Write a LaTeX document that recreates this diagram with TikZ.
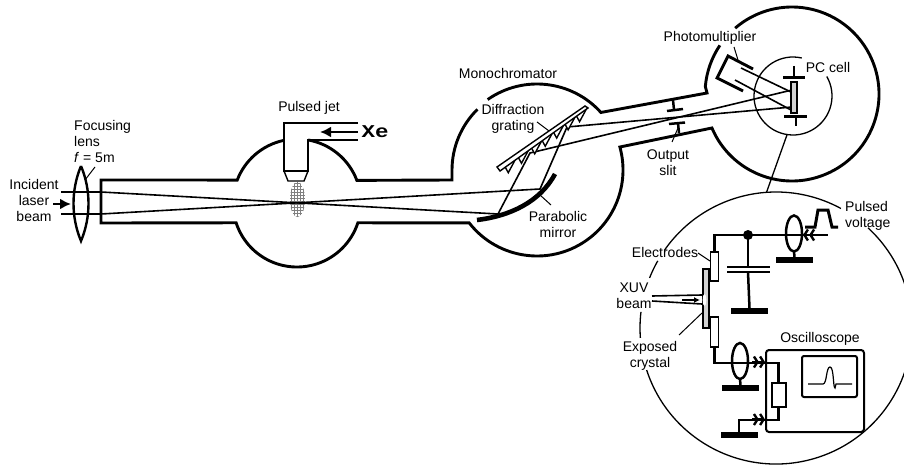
\documentclass[tikz,border=0pt]{standalone}
\usepackage{fontspec}
\setmainfont{Liberation Sans}
\newfontfamily\xefont[FakeStretch=1.25]{Liberation Mono}
\usepackage{tikz}
\usetikzlibrary{arrows.meta,calc,patterns,shapes.geometric}
\tikzset{
    wall/.style={line width=2.9pt, line join=miter},
    wire/.style={line width=2.5pt, line join=miter},
    beam/.style={line width=1.6pt},
    leader/.style={line width=1pt},
    thincase/.style={line width=1.4pt},
    ring/.style={line width=1.3pt},
    lbl/.style={font=\fontsize{14}{16}\selectfont, align=center, inner sep=0pt},
    groundbar/.style={fill=black, minimum width=37pt, minimum height=5.5pt, inner sep=0pt, outer sep=0pt},
    platebox/.style={draw, line width=1.6pt, fill=white, inner sep=0pt, outer sep=0pt},
    coil/.style={draw, ellipse, line width=2.5pt, inner sep=0pt, outer sep=0pt, minimum width=16pt, minimum height=36pt},
    chevrons/.style={-{Straight Barb[length=3.5pt,width=11pt,line width=2.4pt]Straight Barb[length=3.5pt,width=11pt,line width=2.4pt]}},
}
\begin{document}
\begin{tikzpicture}[
        x=1pt, y=1pt,
        >={Latex[length=11pt,width=11pt]}
    ]
    \useasboundingbox (0,-465) rectangle (904,0);
    \clip (0,-465) rectangle (904,0);
    \coordinate (c1) at (297,-203);
    \coordinate (c2) at (537,-170);
    \coordinate (c3) at (792,-94);
    \coordinate (c4) at (793,-96);
    \coordinate (c5) at (776,-328);
    % gas spray
    \fill[pattern=grid, pattern color=gray] (297.5,-199.5) ellipse[x radius=7.5, y radius=17.5];
    % vacuum chambers
    \draw[wall] ($(c1)+(102:64)$) arc[start angle=102, end angle=159, radius=64] -- (101,-180) -- (101,-223)
        -- ($(c1)+(198:64)$) arc[start angle=198, end angle=342, radius=64]
        -- ($(c2)+(218:86)$) arc[start angle=218, end angle=375.5, radius=86]
        -- ($(c3)+(203:87)$) arc[start angle=203, end angle=490.8, radius=87];
    \draw[wall] ($(c1)+(80:64)$) arc[start angle=80, end angle=20.7, radius=64] -- (452,-180)
        -- ($(c2)+(180:85)$) arc[start angle=180, end angle=134.5, radius=85];
    \draw[wall] ($(c2)+(125:86)$) arc[start angle=125, end angle=42, radius=86] -- (707,-93)
        -- ($(c3)+(175:87)$) arc[start angle=175, end angle=146, radius=87];
    % pulsed jet
    \draw[wall] (358,-123) -- (284,-123) -- (284,-171) -- (308,-171) -- (308,-140) -- (358,-140);
    \draw[thincase] (284,-171) -- (288,-181) -- (304,-181) -- (308,-171);
    \draw[wire,<-] (320,-132) -- (358,-132);
    \node[lbl] (jetlbl) at (309,-108) {Pulsed jet};
    \node[inner sep=0pt, font=\xefont\bfseries\fontsize{18}{18}\selectfont] (xe) at (375,-132) {Xe};
    % lens
    \draw[line width=2.4pt] (81,-166) .. controls (71,-190) and (71,-217) .. (81,-241)
        .. controls (91,-217) and (91,-190) .. (81,-166);
    \draw[wall,->] (53,-204) -- (71,-204);
    \node[lbl, anchor=west, align=left] (lenslbl) at (74,-141) {Focusing\\lens\\\textit{f} = 5m};
    \node[lbl] (laserlbl) at (34,-200) {Incident\\laser\\beam};
    \coordinate (lensa) at (95,-167);
    \coordinate (lensb) at (85,-180);
    \draw[leader] (lensa) -- (lensb);
    % light path
    \coordinate (ua) at (61,-192);
    \coordinate (ub) at (101,-192);
    \coordinate (uc) at (498,-214);
    \coordinate (ud) at (530,-153);
    \coordinate (ue) at (792,-90);
    \coordinate (la) at (61,-214);
    \coordinate (lb) at (101,-214);
    \coordinate (lc) at (540,-189);
    \coordinate (ld) at (567,-127);
    \coordinate (le) at (792,-107);
    \draw[beam] (ua) -- (ub) -- (uc) -- (ud) -- (ue);
    \draw[beam] (la) -- (lb) -- (lc) -- (ld) -- (le);
    % mirror
    \draw[line width=4.6pt] (477,-220) .. controls (510,-216) and (540,-202) .. (555,-174);
    \node[lbl] (mirlbl) at (558,-224) {Parabolic\\mirror};
    \coordinate (mira) at (540,-195);
    \coordinate (mirb) at (551,-205);
    \draw[leader] (mira) -- (mirb);
    % grating
    \coordinate (gr1) at (500,-171);
    \coordinate (gr2) at (588,-108);
    \coordinate (gr3) at (585,-106);
    \coordinate (gr4) at (497,-167);
    \foreach \t in {.06,.21,.36,.48,.61,.74,.87}
        \draw[thincase, fill=white] ($(gr1)!\t!(gr2)$) -- ($(gr1)!\t!(gr2)+(3,-5.5)$) -- ($(gr1)!\t+.11!(gr2)$);
    \draw[thincase, fill=white] (gr1) -- (gr2) -- (gr3) -- (gr4) -- cycle;
    \node[lbl] (gratlbl) at (513,-118.5) {Diffraction\\grating};
    \coordinate (grata) at (537,-122);
    \coordinate (gratb) at (549,-131);
    \draw[leader] (grata) -- (gratb);
    \node[lbl] (monolbl) at (508,-73.5) {Monochromator};
    % output slit
    \draw[wire] (673,-100) -- (674,-110);
    \draw[wire] (667,-111) -- (683,-109);
    \draw[wire] (679,-133) -- (678,-123);
    \draw[wire] (669,-124) -- (685,-122.5);
    \node[lbl] (slitlbl) at (668,-163) {Output\\slit};
    \coordinate (slita) at (672,-142);
    \coordinate (slitb) at (678,-128);
    \draw[leader] (slita) -- (slitb);
    % photomultiplier
    \draw[wall] (753,-69) -- (728,-56) -- (717,-78) -- (743,-91);
    \coordinate (pma) at (741,-68);
    \coordinate (pmb) at (735,-80);
    \draw[beam] (pma) -- (791,-92);
    \draw[beam] (pmb) -- (791,-110);
    \node[lbl] (pmlbl) at (710,-38) {Photomultiplier};
    \coordinate (pmc) at (734,-47);
    \coordinate (pmd) at (738,-60);
    \draw[leader] (pmc) -- (pmd);
    % PC cell
    \node[platebox, fill=gray!35, minimum width=6pt, minimum height=31pt] (cell) at (794,-97.5) {};
    \draw[wire] (794,-66) -- (794,-78);
    \draw[line width=3pt] (783,-78) -- (805,-78);
    \draw[wire] (796,-116) -- (796,-126);
    \draw[line width=3pt] (784,-116.5) -- (807,-116.5);
    \node[lbl] (celllbl) at (828,-67) {PC cell};
    \draw[ring] ($(c4)+(77:39)$) arc[start angle=77, end angle=390, radius=39];
    % inset circle
    \foreach \a/\b in {61.5/145, 150.4/158.4, 173.2/184.2, 198/407.4}
        \draw[ring] ($(c5)+(\a:136)$) arc[start angle=\a, end angle=\b, radius=136];
    \coordinate (ina) at ($(c4)+(-98.7:39)$);
    \coordinate (inb) at ($(c5)+(94:136)$);
    \draw[ring] (ina) -- (inb);
    % crystal and electrodes
    \node[platebox, fill=gray!35, minimum width=6pt, minimum height=59pt] (crystal) at (706,-298.5) {};
    \fill[white] (704.5,-300) ellipse[x radius=1.8, y radius=6];
    \node[platebox, minimum width=8pt, minimum height=29pt] (el1) at (714.5,-266.5) {};
    \node[platebox, minimum width=8pt, minimum height=30pt] (el2) at (714.5,-332) {};
    \coordinate (xuva) at (652,-296);
    \coordinate (xuvb) at (652,-301);
    \draw[beam] (xuva) -- (702,-295);
    \draw[beam] (xuvb) -- (702,-304);
    \draw[wire,-{Latex[length=6pt,width=6pt]}] (682,-300) -- (700,-300);
    \node[lbl] (xuvlbl) at (634,-295.5) {XUV\\beam};
    \node[lbl] (ellbl) at (665,-252) {Electrodes};
    \node[lbl] (crylbl) at (650,-356) {Exposed\\crystal};
    \coordinate (lea) at (698,-253);
    \coordinate (leb) at (710,-261);
    \coordinate (lca) at (679,-335);
    \coordinate (lcb) at (702,-313);
    \draw[leader] (lea) -- (leb);
    \draw[leader] (lca) -- (lcb);
    % upper circuit
    \node[groundbar] (g1) at (749.5,-311) {};
    \node[groundbar] (g2) at (794.5,-260) {};
    \node[coil] (coil1) at (794,-233.5) {};
    \draw[wire] (el1.north) -- (714.5,-235) -- (828,-235);
    \fill (748,-235) circle[radius=5];
    \draw[wire] (748,-235) -- (748,-267);
    \draw[wire] (748,-272) -- (g1.north);
    \draw[line width=2.8pt] (727,-267) -- (770,-267);
    \draw[line width=2.8pt] (727,-272) -- (770,-272);
    \draw[wire] (coil1.south) -- (g2.north);
    \draw[wire,chevrons] (815,-235) -- (803,-235);
    \draw[line width=3pt,line join=miter] (805,-227) -- (815,-227) -- (818,-210) -- (828,-210) -- (832,-227) -- (838,-227);
    \node[lbl, align=left, anchor=west] (pulselbl) at (845,-215.5) {Pulsed\\voltage};
    % lower circuit and oscilloscope
    \node[draw, rounded corners=3pt, line width=2pt, minimum width=98pt, minimum height=82pt, inner sep=0pt, outer sep=0pt] (osc) at (815,-391) {};
    \node[draw, rounded corners=2pt, line width=2pt, minimum width=55pt, minimum height=41pt, inner sep=0pt, outer sep=0pt] (screen) at (829.5,-376.5) {};
    \node[lbl] (osclbl) at (820,-339) {Oscilloscope};
    \node[platebox, line width=2pt, minimum width=14pt, minimum height=24pt] (res) at (778.5,-395) {};
    \node[coil] (coil2) at (740,-361) {};
    \node[groundbar] (g3) at (740.5,-388) {};
    \node[groundbar] (g4) at (739,-435) {};
    \draw[wire] (el2.south) -- (714.5,-363) -- (778.5,-363) -- (res.north);
    \draw[wire] (res.south) -- (778.5,-420) -- (739,-420) -- (g4.north);
    \draw[wire] (coil2.south) -- (g3.north);
    \draw[wire,chevrons] (752,-362) -- (765,-362);
    \draw[wire,chevrons] (752,-419.5) -- (765,-419.5);
    \draw[line width=1.2pt] (808,-384) -- (823,-384) .. controls (827,-384) and (826,-367) .. (830,-367)
        .. controls (834,-367) and (833,-388) .. (835,-388) -- (836,-384) -- (852,-384);
\end{tikzpicture}
\end{document}
